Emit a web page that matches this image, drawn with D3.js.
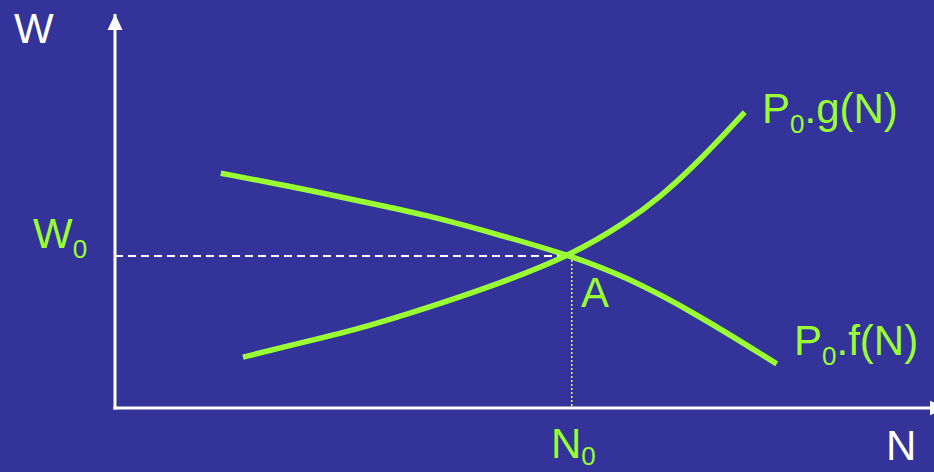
<!DOCTYPE html>
<html>
<head>
<meta charset="utf-8">
<script src="https://cdn.jsdelivr.net/npm/d3@7"></script>
<style>
  html, body { margin: 0; padding: 0; background: #333399; }
  svg { display: block; font-family: "Liberation Sans", Arial, sans-serif; }
</style>
</head>
<body>
<svg id="canvas" width="934" height="472"></svg>
<script>
// demand curve P0.f(N), falling
const fN = [1.29, 2.13, 2.99, 3.80, 4.61, 5.56, 6.24, 7.05, 8.07];
const fW = [5.96, 5.63, 5.25, 4.90, 4.44, 3.87, 3.32, 2.44, 1.12];
// supply curve P0.g(N), rising
const gN = [1.56, 2.26, 3.07, 3.88, 4.70, 5.56, 6.24, 6.65, 7.05, 7.46, 7.68];
const gW = [1.29, 1.65, 2.06, 2.59, 3.17, 3.87, 4.72, 5.36, 6.12, 7.01, 7.51];
// equilibrium A
const eqN = 5.57;
const eqW = 3.86;
const axisMax = [10.13, 10];

const green = "#99ff33";
const canvas = d3.select("#canvas");

const x = d3.scaleLinear().domain([0, 10]).range([115, 935]);
const y = d3.scaleLinear().domain([0, 10]).range([408, 14]);

// arrow heads
const defs = canvas.append("defs");
defs
  .append("marker")
  .attr("id", "arrow")
  .attr("markerUnits", "userSpaceOnUse")
  .attr("viewBox", "0 0 16 16")
  .attr("refX", 16)
  .attr("refY", 8)
  .attr("markerWidth", 16)
  .attr("markerHeight", 16)
  .attr("orient", "auto")
  .append("path")
  .attr("d", "M0,0.5 L16,8 L0,15.5 Z")
  .attr("fill", "white");

// axes
canvas
  .append("line")
  .attr("x1", x(0))
  .attr("y1", y(0) + 1.5)
  .attr("x2", x(0))
  .attr("y2", y(axisMax[1]))
  .attr("stroke", "white")
  .attr("stroke-width", 3)
  .attr("marker-end", "url(#arrow)");

canvas
  .append("line")
  .attr("x1", x(0) - 1.5)
  .attr("y1", y(0))
  .attr("x2", x(axisMax[0]))
  .attr("y2", y(0))
  .attr("stroke", "white")
  .attr("stroke-width", 3)
  .attr("marker-end", "url(#arrow)");

// guide lines to A
canvas
  .append("line")
  .attr("x1", x(0))
  .attr("y1", y(eqW))
  .attr("x2", x(eqN))
  .attr("y2", y(eqW))
  .attr("stroke", "white")
  .attr("stroke-width", 2)
  .attr("stroke-dasharray", "8,5");

canvas
  .append("line")
  .attr("x1", x(eqN))
  .attr("y1", y(eqW))
  .attr("x2", x(eqN))
  .attr("y2", y(0) - 1.5)
  .attr("stroke", "#ffff33")
  .attr("stroke-width", 1.5)
  .attr("stroke-dasharray", "2,2");

// curves (basis smooths out small reading errors)
const line = d3
  .line()
  .x((d) => x(d[0]))
  .y((d) => y(d[1]))
  .curve(d3.curveBasis);

const curves = [d3.zip(fN, fW), d3.zip(gN, gW)];

canvas
  .selectAll("path.curve")
  .data(curves)
  .enter()
  .append("path")
  .attr("class", "curve")
  .attr("d", line)
  .attr("fill", "none")
  .attr("stroke", green)
  .attr("stroke-width", 5.5);

// labels: [main, sub, rest, x, baseline, colour, sub drop]
const labels = [
  ["W", "", "", 14, 43, "white", 0],
  ["N", "", "", 886, 460, "white", 0],
  ["W", "0", "", 33, 248, green, 10],
  ["A", "", "", 581, 307, green, 0],
  ["N", "0", "", 551, 458, green, 7],
  ["P", "0", ".g(N)", 762, 123, green, 10],
  ["P", "0", ".f(N)", 794, 355, green, 10],
];

labels.forEach((l) => {
  const t = canvas
    .append("text")
    .attr("x", l[3])
    .attr("y", l[4])
    .attr("fill", l[5])
    .attr("font-size", 42);
  t.append("tspan").text(l[0]);
  if (l[1]) {
    t.append("tspan").attr("font-size", 26).attr("dy", l[6]).text(l[1]);
  }
  if (l[2]) {
    t.append("tspan").attr("dy", -l[6]).text(l[2]);
  }
});
</script>
</body>
</html>
